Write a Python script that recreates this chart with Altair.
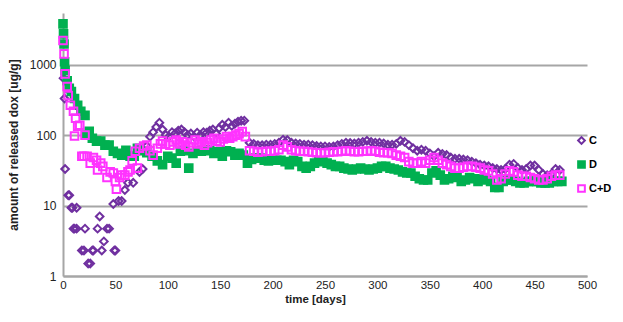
import altair as alt
import pandas as pd

# ---- data ----
c_days = [0.5, 1.5, 2, 5, 6, 8, 9, 13, 10, 11, 13, 18, 20, 21, 24, 26, 28, 29, 33, 35, 37, 39, 42, 44, 48, 49, 50, 53, 56, 59, 62, 67, 73, 76,
          80, 83, 86, 89, 92, 95, 98, 101, 104, 107, 110, 113, 116, 119, 122, 125, 128, 131, 134, 137, 140, 143, 146, 149, 152, 155, 158, 161, 164, 167, 170, 173,
          178, 182, 186, 190, 194, 198, 202, 206, 210, 214, 218, 222, 226, 230, 234, 238, 242, 246, 250, 254, 258, 262, 266, 270, 274, 278, 282, 286, 290, 294,
          298, 302, 306, 310, 314, 318, 322, 326, 330, 334, 338, 342, 346, 350, 354, 358, 362, 366, 370, 374, 378, 382, 386, 390, 394, 398, 402, 406, 410, 414,
          418, 422, 426, 430, 434, 438, 442, 446, 450, 454, 458, 462, 466, 470, 474]
c_vals = [640, 330, 33, 14, 14, 9.3, 9.3, 9.3, 4.7, 4.7, 4.7, 2.3, 2.3, 4.7, 1.5, 1.5, 2.3, 2.3, 4.7, 7, 2.3, 3.1, 4.7, 4.7, 10.5, 2.3, 2.3, 11.6, 11.6, 16.6, 21, 21, 30, 33,
          70, 95, 110, 130, 150, 120, 100, 95, 110, 105, 115, 120, 110, 100, 105, 95, 108, 100, 110, 108, 115, 120, 105, 125, 140, 130, 150, 135, 145, 155, 160, 160,
          78, 75, 72, 72, 73, 73, 75, 78, 86, 85, 78, 76, 75, 73, 73, 72, 70, 69, 69, 68, 69, 72, 75, 78, 77, 76, 78, 80, 83, 80,
          78, 78, 76, 73, 73, 75, 83, 80, 72, 65, 60, 62, 60, 55, 50, 56, 54, 52, 48, 46, 46, 45, 44, 42, 40, 38, 37, 36, 34, 33,
          32, 33, 38, 39, 34, 32, 33, 37, 37, 32, 28, 27, 28, 33, 32]

d_days = [0, 0.5, 1, 1.5, 2, 4, 6, 8, 11, 14, 17, 21, 22, 25, 28, 32, 36, 40, 44, 48, 52, 56, 60, 64, 68, 71, 75, 80, 85, 90, 95, 100, 104, 108, 112, 116,
          120, 124, 128, 132, 136, 140, 144, 148, 152, 156, 160, 164, 168, 172, 176,
          180, 184, 188, 192, 196, 200, 204, 208, 212, 216, 220, 224, 228, 232, 236, 240, 244, 248, 252, 256, 260, 264, 268, 272, 276, 280, 284, 288, 292, 296,
          300, 304, 308, 312, 316, 320, 324, 328, 332, 336, 340, 344, 348, 352, 356, 360, 364, 368, 372, 376, 380, 384, 388, 392, 396, 400, 404, 408, 412, 416,
          420, 424, 428, 432, 436, 440, 444, 448, 452, 456, 460, 464, 468, 472, 476]
d_vals = [3780, 2730, 1960, 1100, 820, 590, 460, 415, 330, 265, 218, 190, 100, 113, 90, 82, 82, 72, 72, 59, 55, 52, 61, 50, 50, 65, 60, 56, 50, 43, 38, 50, 47, 40, 59, 60,
          34, 55, 59, 59, 62, 60, 55, 58, 50, 60, 58, 52, 55, 52, 40,
          45, 47, 47, 44, 43, 44, 44, 44, 42, 38, 44, 42, 36, 34, 36, 40, 43, 42, 40, 38, 36, 36, 34, 33, 32, 33, 34, 33, 32, 33,
          34, 36, 36, 34, 33, 32, 30, 29, 29, 26, 24, 23, 23, 29, 31, 27, 23, 24, 26, 25, 22, 23, 25, 24, 22, 24, 23, 22, 18, 18,
          22, 23, 23, 22, 21, 21, 22, 22, 22, 21, 21, 21, 22, 22, 22]

cd_days = [0, 1, 2, 4, 5, 7, 10, 12, 14, 11, 16, 21, 18, 20, 23, 26, 29, 32, 33, 36, 38, 42, 45, 48, 50, 51, 54, 56, 59, 62, 64, 66, 69, 71, 73, 77,
           80, 83, 86, 90, 93, 95, 98, 102, 105, 108, 111, 114, 117, 120, 123, 126, 129, 132, 135, 138, 141, 144, 147, 150, 153, 156, 159, 162, 165, 168, 171, 174,
           178, 182, 186, 190, 194, 198, 202, 206, 210, 214, 218, 222, 226, 230, 234, 238, 242, 246, 250, 254, 258, 262, 266, 270, 274, 278, 282, 286, 290, 294,
           298, 302, 306, 310, 314, 318, 322, 326, 330, 334, 338, 342, 346, 350, 354, 358, 362, 366, 370, 374, 378, 382, 386, 390, 394, 398, 402, 406, 410, 414,
           418, 422, 426, 430, 434, 438, 442, 446, 450, 454, 458, 462, 466, 470, 474]
cd_vals = [2200, 1420, 740, 490, 365, 265, 218, 174, 134, 97, 138, 100, 50, 50, 50, 40, 48, 44, 32, 40, 36, 25, 30, 29, 22, 17, 25, 27, 27, 30, 32, 43, 59, 34, 65, 70,
           72, 60, 52, 65, 75, 82, 75, 72, 80, 85, 75, 80, 72, 68, 78, 85, 75, 80, 72, 78, 85, 90, 82, 80, 88, 95, 90, 95, 100, 105, 112, 95,
           60, 59, 57, 58, 59, 59, 60, 62, 72, 68, 62, 60, 59, 59, 58, 57, 56, 56, 56, 57, 58, 58, 59, 60, 59, 58, 58, 59, 59, 60,
           59, 57, 56, 56, 55, 52, 50, 48, 42, 40, 40, 42, 40, 44, 48, 44, 40, 38, 36, 34, 34, 35, 36, 36, 35, 34, 32, 31, 28, 23,
           24, 28, 31, 30, 27, 26, 26, 25, 24, 23, 23, 24, 26, 27, 27]

series_names = ["C", "D", "C+D"]
series_colors = ["#7030A0", "#00B050", "#FF33FF"]
series_fills = ["transparent", "#00B050", "transparent"]
series_shapes = ["diamond", "square", "square"]

y_ticks = [1, 10, 100, 1000]
x_ticks = [0, 50, 100, 150, 200, 250, 300, 350, 400, 450, 500]

df = pd.concat([
    pd.DataFrame({"day": c_days, "val": c_vals, "series": "C"}),
    pd.DataFrame({"day": d_days, "val": d_vals, "series": "D"}),
    pd.DataFrame({"day": cd_days, "val": cd_vals, "series": "C+D"}),
], ignore_index=True)
df["order"] = df["series"].map({"C": 0, "D": 1, "C+D": 2})

FONT = "Liberation Sans"

legend = alt.Legend(title=None, orient="none", legendX=513, legendY=122, padding=0,
                    rowPadding=9, labelFont=FONT, labelFontSize=11,
                    labelFontWeight="bold", labelColor="#000000", symbolStrokeWidth=2,
                    symbolSize=45, labelOffset=2)

chart = alt.Chart(df).mark_point(filled=True, size=58, strokeWidth=2, opacity=1).encode(
    x=alt.X("day:Q", scale=alt.Scale(domain=[0, 500], nice=False),
            axis=alt.Axis(title="time [days]", values=x_ticks, grid=False, ticks=False,
                          labelFlush=False,
                          domainColor="#A6A6A6", domainWidth=2, labelFont=FONT, labelFontSize=11.5,
                          labelColor="#222222", labelPadding=3, titleFont=FONT, titleFontSize=11.5,
                          titleFontWeight="bold", titleColor="#222222", titlePadding=3,
                          titleX=252, titleAlign="center")),
    y=alt.Y("val:Q", scale=alt.Scale(type="log", domain=[1, 5400], nice=False),
            axis=alt.Axis(title="amount of released dox [ug/g]", values=y_ticks, format="d",
                          grid=True, gridColor="#A6A6A6", gridWidth=2, ticks=False,
                          domainColor="#A6A6A6", domainWidth=2, labelFont=FONT, labelFontSize=12,
                          labelColor="#222222", labelPadding=7, titleFont=FONT, titleFontSize=12,
                          titleFontWeight="bold", titleColor="#222222", titlePadding=9)),
    fill=alt.Fill("series:N", scale=alt.Scale(domain=series_names, range=series_fills), legend=legend),
    stroke=alt.Stroke("series:N", scale=alt.Scale(domain=series_names, range=series_colors), legend=legend),
    shape=alt.Shape("series:N", scale=alt.Scale(domain=series_names, range=series_shapes), legend=legend),
    order=alt.Order("order:Q"),
).properties(
    width=524, height=263,
    autosize=alt.AutoSizeParams(type="none"),
    padding={"left": 55, "top": 5, "right": 28, "bottom": 30},
).configure_view(stroke=None)

chart.save("out.html", embed_options={"renderer": "svg", "actions": False})
